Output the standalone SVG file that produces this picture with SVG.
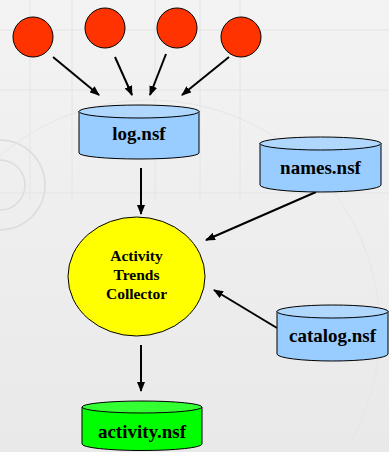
<svg xmlns="http://www.w3.org/2000/svg" width="389" height="452" viewBox="0 0 389 452">
<defs>
<marker id="ah" markerWidth="10" markerHeight="8" refX="9" refY="4" orient="auto" markerUnits="userSpaceOnUse">
<path d="M0,0 L10,4 L0,8 Z" fill="#000"/>
</marker>
<linearGradient id="bg" x1="0" y1="0" x2="0" y2="1">
<stop offset="0" stop-color="#f3f3f3"/>
<stop offset="1" stop-color="#e9e9e9"/>
</linearGradient>
</defs>
<style>
.src{fill:#ff3300;stroke:#000;stroke-width:1}
.body{stroke:#000;stroke-width:1}
.blue{fill:#99ccff}
.bluetop{fill:#b0d8ff}
.green{fill:#00ff00}
.greentop{fill:#33ff33}
text{font-family:"Liberation Serif","Times New Roman","DejaVu Serif",serif;font-weight:bold;fill:#000;text-anchor:middle}
.lbl{font-size:19px}
.clbl{font-size:15.5px}
.conn line{stroke:#000;stroke-width:2;marker-end:url(#ah)}
.deco{fill:none;stroke:#dcdcdc;stroke-width:1.5}
.grid{stroke:#e4e4e4;stroke-width:1}
</style>
<rect x="0" y="0" width="389" height="452" fill="url(#bg)"/>
<g id="background">
<line class="grid" x1="0" y1="30" x2="389" y2="30"/>
<line class="grid" x1="0" y1="90" x2="389" y2="90"/>
<line class="grid" x1="0" y1="193" x2="389" y2="193"/>
<line class="grid" x1="30" y1="0" x2="30" y2="200"/>
<line class="grid" x1="72" y1="0" x2="72" y2="200"/>
<line class="grid" x1="155" y1="0" x2="155" y2="200"/>
<line class="grid" x1="200" y1="0" x2="200" y2="200"/>
<line class="grid" x1="240" y1="0" x2="240" y2="200"/>
<circle class="deco" cx="0" cy="185" r="25"/>
<circle class="deco" cx="0" cy="185" r="45"/>
<circle cx="150" cy="330" r="230" fill="none" stroke="#e6e6e6" stroke-width="1"/>
</g>
<g class="conn" id="connectors">
<line x1="53" y1="57" x2="99" y2="95"/>
<line x1="115" y1="57" x2="132" y2="95"/>
<line x1="166" y1="54" x2="150" y2="95"/>
<line x1="229" y1="57" x2="182" y2="95"/>
<line x1="141" y1="168" x2="141" y2="214"/>
<line x1="316" y1="192" x2="206" y2="240"/>
<line x1="277" y1="328" x2="214" y2="290"/>
<line x1="141" y1="345" x2="141" y2="391"/>
</g>
<g id="src1"><circle class="src" cx="33" cy="37" r="20"/></g>
<g id="src2"><circle class="src" cx="105" cy="28" r="20"/></g>
<g id="src3"><circle class="src" cx="177" cy="28" r="20"/></g>
<g id="src4"><circle class="src" cx="241" cy="37" r="20"/></g>
<g id="log">
<path class="body blue" d="M79,111 L79,153 A60,6 0 0 0 199,153 L199,111 Z"/>
<ellipse class="body bluetop" cx="139" cy="111.5" rx="60" ry="6.5"/>
<text class="lbl" x="139" y="140">log.nsf</text>
</g>
<g id="names">
<path class="body blue" d="M260,143 L260,185 A60.5,7 0 0 0 381,185 L381,143 Z"/>
<ellipse class="body bluetop" cx="320.5" cy="143.5" rx="60.5" ry="6.5"/>
<text class="lbl" x="320.5" y="174">names.nsf</text>
</g>
<g id="collector">
<ellipse cx="136.5" cy="276.5" rx="68.5" ry="59.5" fill="#ffff00" stroke="#000" stroke-width="1"/>
<text class="clbl" x="136.5" y="261">Activity</text>
<text class="clbl" x="136.5" y="280">Trends</text>
<text class="clbl" x="136.5" y="299">Collector</text>
</g>
<g id="catalog">
<path class="body blue" d="M277,311 L277,354 A55.5,7 0 0 0 388,354 L388,311 Z"/>
<ellipse class="body bluetop" cx="332.5" cy="311.5" rx="55.5" ry="6.5"/>
<text class="lbl" x="332.5" y="342">catalog.nsf</text>
</g>
<g id="activity">
<path class="body green" d="M82,407 L82,444 A60,6.5 0 0 0 202,444 L202,407 Z"/>
<ellipse class="body greentop" cx="142" cy="407" rx="60" ry="6"/>
<text class="lbl" x="142" y="438">activity.nsf</text>
</g>
</svg>
